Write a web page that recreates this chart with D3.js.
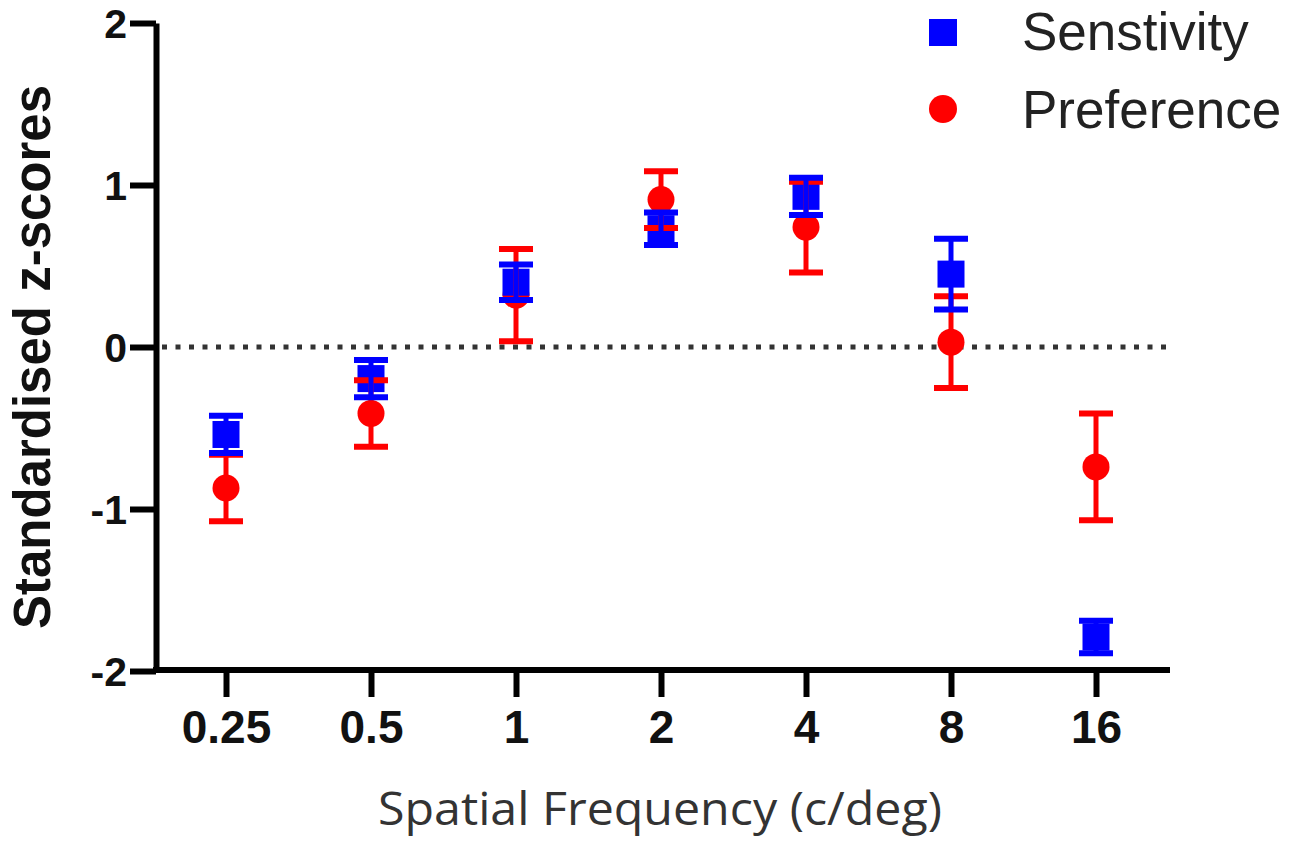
<!DOCTYPE html>
<html>
<head>
<meta charset="utf-8">
<script src="https://cdn.jsdelivr.net/npm/d3@7"></script>
<style>
  html, body { margin: 0; padding: 0; background: #fff; }
  svg { display: block; }
</style>
</head>
<body>
<svg id="chart" width="1300" height="849"></svg>
<script>
// ---- data ----
const categories = ["0.25", "0.5", "1", "2", "4", "8", "16"];
const sensitivityMean = [-0.54, -0.195, 0.40, 0.73, 0.93, 0.45, -1.79];
const sensitivityErr  = [0.115, 0.115, 0.11, 0.10, 0.115, 0.218, 0.10];
const preferenceMean  = [-0.87, -0.41, 0.32, 0.91, 0.74, 0.03, -0.74];
const preferenceErr   = [0.205, 0.205, 0.285, 0.175, 0.28, 0.283, 0.33];
const yTicks = [-2, -1, 0, 1, 2];
const yTickLabels = ["-2", "-1", "0", "1", "2"];
const seriesNames = ["Senstivity", "Preference"];
const seriesColors = ["#0000FF", "#FF0000"];

const svg = d3.select("#chart");

const x = d3.scalePoint().domain(categories).range([226, 1096]);
const y = d3.scaleLinear().domain([-2, 2]).range([671, 23]);

// zero reference line (dotted)
svg.append("line")
  .attr("x1", 162).attr("x2", 1170)
  .attr("y1", y(0)).attr("y2", y(0))
  .attr("stroke", "#333").attr("stroke-width", 5)
  .attr("stroke-dasharray", "5,8.5");

// axes
const yAxis = svg.append("g")
  .attr("transform", "translate(156,0)")
  .call(d3.axisLeft(y).tickValues(yTicks)
    .tickFormat((d, i) => yTickLabels[i])
    .tickSize(26).tickSizeOuter(0).tickPadding(3));
yAxis.select(".domain").attr("stroke", "#000").attr("stroke-width", 6);
yAxis.selectAll(".tick line").attr("stroke", "#000").attr("stroke-width", 6);
yAxis.selectAll(".tick text")
  .attr("dy", 14).attr("font-family", "'Liberation Sans', Arial, sans-serif")
  .attr("font-weight", "bold").attr("font-size", 41).attr("fill", "#111");

const xAxis = svg.append("g")
  .attr("transform", "translate(0,670)")
  .call(d3.axisBottom(x).tickSize(27).tickSizeOuter(0));
xAxis.select(".domain").remove();
xAxis.selectAll(".tick line").attr("stroke", "#000").attr("stroke-width", 6);
xAxis.selectAll(".tick text")
  .attr("y", 73).attr("dy", 0)
  .attr("font-family", "'Liberation Sans', Arial, sans-serif")
  .attr("font-weight", "bold").attr("font-size", 46).attr("fill", "#111");
svg.append("line")
  .attr("x1", 153).attr("x2", 1170)
  .attr("y1", 670).attr("y2", 670)
  .attr("stroke", "#000").attr("stroke-width", 6);

// axis titles
svg.append("text")
  .attr("transform", "translate(50,357) rotate(-90)")
  .attr("text-anchor", "middle")
  .attr("font-family", "'Liberation Sans', Arial, sans-serif")
  .attr("font-weight", "bold").attr("font-size", 51).attr("fill", "#111")
  .text("Standardised z-scores");

svg.append("text")
  .attr("x", 378).attr("y", 825)
  .attr("textLength", 564).attr("lengthAdjust", "spacingAndGlyphs")
  .attr("font-family", "'Open Sans', sans-serif")
  .attr("font-size", 46).attr("fill", "#333")
  .text("Spatial Frequency (c/deg)");

// data rows
const sens = categories.map((c, i) => ({ c, m: sensitivityMean[i], e: sensitivityErr[i] }));
const pref = categories.map((c, i) => ({ c, m: preferenceMean[i], e: preferenceErr[i] }));

const SQ = 27, R = 13.5, CAP = 34;

// red symbols
svg.append("g").selectAll("circle").data(pref).join("circle")
  .attr("cx", d => x(d.c)).attr("cy", d => y(d.m)).attr("r", R)
  .attr("fill", seriesColors[1]);
// blue symbols
svg.append("g").selectAll("rect").data(sens).join("rect")
  .attr("x", d => x(d.c) - SQ / 2).attr("y", d => y(d.m) - SQ / 2)
  .attr("width", SQ).attr("height", SQ)
  .attr("fill", seriesColors[0]);

function errorBars(data, color) {
  const g = svg.append("g").attr("stroke", color);
  g.selectAll(".v").data(data).join("line").attr("class", "v")
    .attr("x1", d => x(d.c)).attr("x2", d => x(d.c))
    .attr("y1", d => y(d.m + d.e)).attr("y2", d => y(d.m - d.e))
    .attr("stroke-width", 5);
  g.selectAll(".t").data(data).join("line").attr("class", "t")
    .attr("x1", d => x(d.c) - CAP / 2).attr("x2", d => x(d.c) + CAP / 2)
    .attr("y1", d => y(d.m + d.e)).attr("y2", d => y(d.m + d.e))
    .attr("stroke-width", 6);
  g.selectAll(".b").data(data).join("line").attr("class", "b")
    .attr("x1", d => x(d.c) - CAP / 2).attr("x2", d => x(d.c) + CAP / 2)
    .attr("y1", d => y(d.m - d.e)).attr("y2", d => y(d.m - d.e))
    .attr("stroke-width", 6);
}
errorBars(pref, seriesColors[1]);
errorBars(sens, seriesColors[0]);

// legend
const legend = svg.append("g");
legend.append("rect").attr("x", 929).attr("y", 19).attr("width", 28).attr("height", 27)
  .attr("fill", seriesColors[0]);
legend.append("circle").attr("cx", 943).attr("cy", 109).attr("r", 14)
  .attr("fill", seriesColors[1]);
legend.selectAll("text").data(seriesNames).join("text")
  .attr("x", 1022).attr("y", (d, i) => i === 0 ? 50 : 128)
  .attr("font-family", "'Liberation Sans', Arial, sans-serif")
  .attr("font-size", 53).attr("fill", "#222")
  .text(d => d);
</script>
</body>
</html>
